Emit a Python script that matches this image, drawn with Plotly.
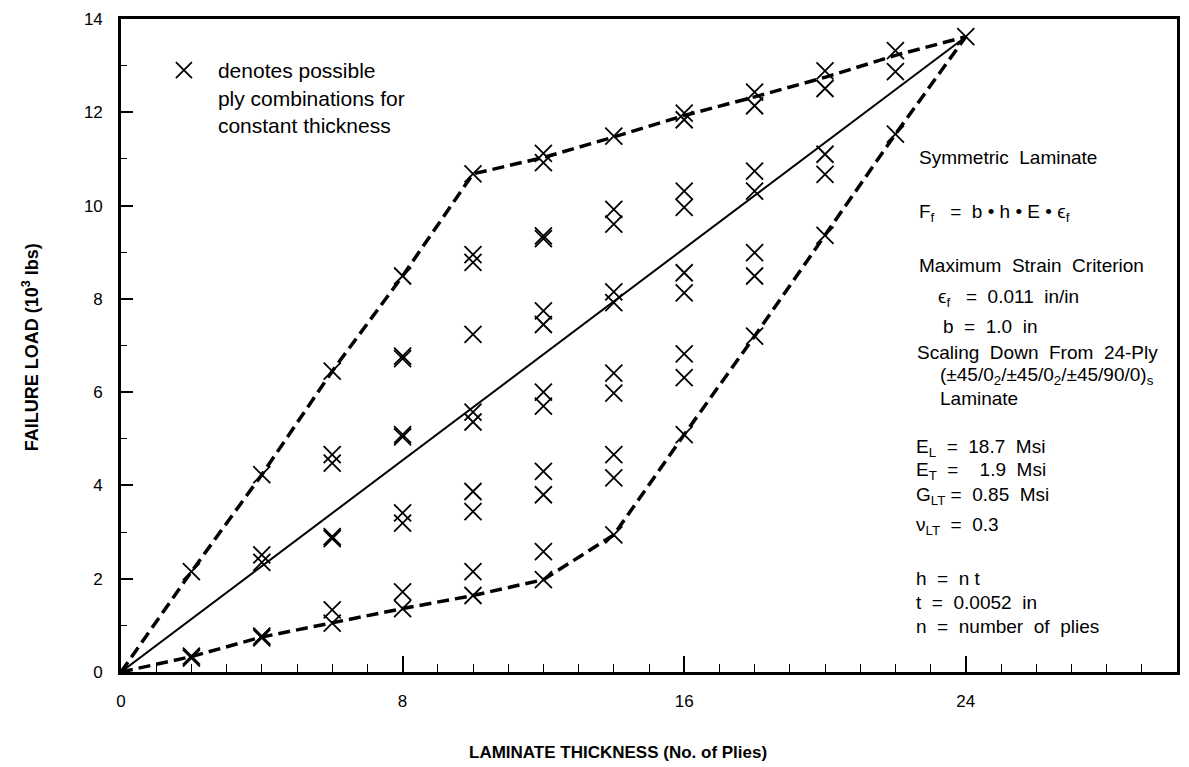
import plotly.graph_objects as go

# ---- data ----
ply_counts = [2, 4, 6, 8, 10, 12, 14, 16, 18, 20, 22, 24]
load_2ply = [2.15, 0.34, 0.30]
load_4ply = [4.23, 2.51, 2.35, 0.77, 0.73]
load_6ply = [6.45, 4.66, 4.48, 2.90, 2.86, 1.33, 1.05]
load_8ply = [8.49, 6.77, 6.72, 5.09, 5.04, 3.41, 3.19, 1.72, 1.36]
load_10ply = [10.68, 8.95, 8.78, 7.24, 5.57, 5.36, 3.87, 3.44, 2.15, 1.64]
load_12ply = [11.12, 10.92, 9.35, 9.29, 7.74, 7.45, 6.00, 5.70, 4.30, 3.80, 2.58, 1.98]
load_14ply = [11.49, 9.92, 9.60, 8.15, 7.92, 6.41, 5.98, 4.66, 4.16, 2.94]
load_16ply = [11.98, 11.84, 10.31, 9.96, 8.56, 8.13, 6.82, 6.31, 5.09]
load_18ply = [12.43, 12.14, 10.74, 10.31, 8.99, 8.49, 7.20]
load_20ply = [12.89, 12.51, 11.10, 10.67, 9.36]
load_22ply = [13.32, 12.87, 11.53]
load_24ply = [13.62]

boundary_plies = [0, 2, 4, 6, 8, 10, 12, 14, 16, 18, 20, 22, 24]
upper_bound = [0, 2.15, 4.23, 6.45, 8.49, 10.68, 11.03, 11.47, 11.93, 12.33, 12.75, 13.22, 13.62]
lower_bound = [0, 0.33, 0.75, 1.05, 1.36, 1.64, 1.98, 2.94, 5.09, 7.20, 9.36, 11.53, 13.62]
scaling_plies = [0, 24]
scaling_load = [0, 13.62]

x_tick_vals = [0, 8, 16, 24]
y_tick_vals = [0, 2, 4, 6, 8, 10, 12, 14]

FONT = "Liberation Sans, Arial, Helvetica, sans-serif"

load_lists = [load_2ply, load_4ply, load_6ply, load_8ply, load_10ply, load_12ply,
              load_14ply, load_16ply, load_18ply, load_20ply, load_22ply, load_24ply]
combo_x, combo_y = [], []
for n, loads in zip(ply_counts, load_lists):
    combo_x += [n] * len(loads)
    combo_y += loads

fig = go.Figure()
fig.add_trace(go.Scatter(x=boundary_plies, y=upper_bound, mode="lines",
                         line=dict(color="black", width=3.5, dash="12px,6px"),
                         showlegend=False, hoverinfo="skip"))
fig.add_trace(go.Scatter(x=boundary_plies, y=lower_bound, mode="lines",
                         line=dict(color="black", width=3.5, dash="12px,6px"),
                         showlegend=False, hoverinfo="skip"))
fig.add_trace(go.Scatter(x=scaling_plies, y=scaling_load, mode="lines",
                         line=dict(color="black", width=2),
                         showlegend=False, hoverinfo="skip"))
fig.add_trace(go.Scatter(x=combo_x, y=combo_y, mode="markers",
                         marker=dict(symbol="x-thin", size=17, color="black",
                                     line=dict(color="black", width=1.8)),
                         name="denotes possible<br>ply combinations for<br>constant thickness"))

W, H = 1189, 767
L, R, T, B = 121, 9, 19, 95
pw, ph = W - L - R, H - T - B


def px(xp):
    return (xp - L) / pw


def py(yp):
    return (H - B - yp) / ph


notes = [
    (919, 158, "Symmetric  Laminate"),
    (919, 213, "F<sub>f</sub>   =  b • h • E • ϵ<sub>f</sub>"),
    (919, 265, "Maximum  Strain  Criterion"),
    (938, 298, "ϵ<sub>f</sub>   =  0.011  in/in"),
    (943, 326, "b  =  1.0  in"),
    (917, 352, "Scaling  Down  From  24-Ply"),
    (940, 376, "(±45/0<sub>2</sub>/±45/0<sub>2</sub>/±45/90/0)<sub>s</sub>"),
    (940, 398, "Laminate"),
    (916, 448, "E<sub>L</sub>  =  18.7  Msi"),
    (916, 471, "E<sub>T</sub>  =    1.9  Msi"),
    (916, 496, "G<sub>LT</sub> =  0.85  Msi"),
    (916, 526, "ν<sub>LT</sub>  =  0.3"),
    (916, 578, "h  =  n t"),
    (916, 602, "t  =  0.0052  in"),
    (916, 626, "n  =  number  of  plies"),
]
annotations = []
for xp, yp, txt in notes:
    annotations.append(dict(x=px(xp), y=py(yp), xref="paper", yref="paper",
                            text=txt, showarrow=False, xanchor="left", yanchor="middle",
                            align="left", font=dict(family=FONT, size=19, color="black")))
annotations.append(dict(x=px(619), y=py(752), xref="paper", yref="paper",
                        text="<b>LAMINATE THICKNESS (No. of Plies)</b>", showarrow=False,
                        xanchor="center", yanchor="middle",
                        font=dict(family=FONT, size=17, color="black")))
annotations.append(dict(x=px(30), y=py(347), xref="paper", yref="paper",
                        text="<b>FAILURE LOAD (10<sup>3</sup> lbs)</b>", showarrow=False,
                        textangle=-90, xanchor="center", yanchor="middle",
                        font=dict(family=FONT, size=18, color="black")))

fig.update_layout(
    width=W, height=H,
    margin=dict(l=L, r=R, t=T, b=B, pad=0),
    paper_bgcolor="white", plot_bgcolor="white",
    font=dict(family=FONT, size=17, color="black"),
    showlegend=True,
    legend=dict(x=px(150), y=py(50), xanchor="left", yanchor="top",
                bgcolor="rgba(0,0,0,0)", borderwidth=0, itemwidth=58,
                valign="top", font=dict(family=FONT, size=21, color="black")),
    annotations=annotations,
)
fig.update_xaxes(range=[0, 30], tickvals=x_tick_vals, ticks="inside", ticklen=16,
                 tickwidth=1.5, tickcolor="black", showgrid=False, zeroline=False,
                 showline=True, linewidth=2.6, linecolor="black", mirror=True,
                 ticklabelstandoff=12, tickfont=dict(family=FONT, size=17, color="black"),
                 minor=dict(dtick=1, ticks="inside", ticklen=8, tickwidth=1.3,
                            tickcolor="black", showgrid=False))
fig.update_yaxes(range=[0, 14], tickvals=y_tick_vals, ticks="inside", ticklen=12,
                 tickwidth=1.5, tickcolor="black", showgrid=False, zeroline=False,
                 showline=True, linewidth=2.6, linecolor="black", mirror=True,
                 ticklabelstandoff=12, tickfont=dict(family=FONT, size=17, color="black"),
                 minor=dict(dtick=1, ticks="inside", ticklen=6, tickwidth=1.3,
                            tickcolor="black", showgrid=False))

fig.write_html("out.html", config={"displayModeBar": False},
               post_script="document.body.style.margin='0px';")
